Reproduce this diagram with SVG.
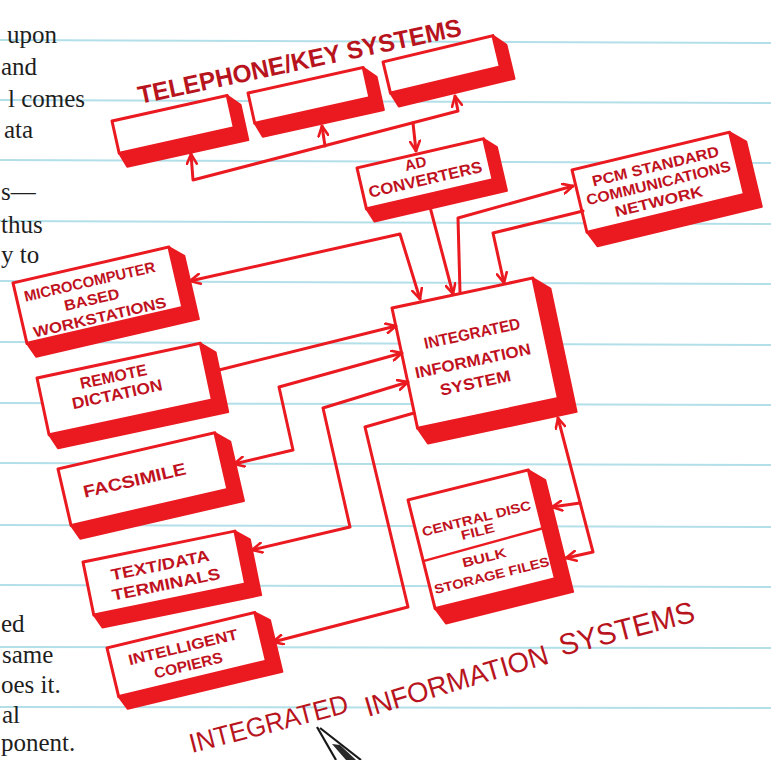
<svg xmlns="http://www.w3.org/2000/svg" width="771" height="760" viewBox="0 0 771 760">
<style>
.rule{stroke:#b3dfe9;stroke-width:2}
.body{font-family:"Liberation Serif",serif;font-size:25px;fill:#1e1e1e}
.front{fill:#fff;stroke:#ea1a20;stroke-width:3;stroke-linejoin:round}
.shade{fill:#ea1a20;stroke:#ea1a20;stroke-width:2;stroke-linejoin:round}
.div{stroke:#ea1a20;stroke-width:2.5;fill:none}
.lbl{font-family:"Liberation Sans",Arial,sans-serif;font-weight:bold;fill:#c0121e;text-anchor:middle}
#connectors path{fill:none;stroke:#ea1a20;stroke-width:3;stroke-linejoin:round;stroke-linecap:round}
.title{font-family:"Liberation Sans",Arial,sans-serif;fill:#b8141e}
</style>
<defs>
<marker id="ah" viewBox="0 0 12 12" refX="11" refY="6" markerWidth="12" markerHeight="12" markerUnits="userSpaceOnUse" orient="auto-start-reverse">
<path d="M1,1 L11,6 L1,11" fill="none" stroke="#ea1a20" stroke-width="2.6" stroke-linecap="round" stroke-linejoin="round"/>
</marker>
</defs>
<rect width="771" height="760" fill="#fff"/>
<g id="paper">
<line class="rule" x1="0" y1="40" x2="771" y2="43"/>
<line class="rule" x1="0" y1="100" x2="771" y2="103"/>
<line class="rule" x1="0" y1="160" x2="771" y2="163"/>
<line class="rule" x1="0" y1="221" x2="771" y2="224"/>
<line class="rule" x1="0" y1="281" x2="771" y2="284"/>
<line class="rule" x1="0" y1="342" x2="771" y2="345"/>
<line class="rule" x1="0" y1="403" x2="771" y2="405"/>
<line class="rule" x1="0" y1="463" x2="771" y2="465"/>
<line class="rule" x1="0" y1="525" x2="771" y2="527"/>
<line class="rule" x1="0" y1="585" x2="771" y2="587"/>
<line class="rule" x1="0" y1="647" x2="771" y2="648"/>
<line class="rule" x1="0" y1="707" x2="771" y2="708"/>
</g>
<g id="bodytext" class="body">
<text x="7" y="43">upon</text>
<text x="1" y="75">and</text>
<text x="8" y="107">l comes</text>
<text x="4" y="138">ata</text>
<text x="1" y="200">s—</text>
<text x="1" y="233">thus</text>
<text x="1" y="263">y to</text>
<text x="1" y="632">ed</text>
<text x="2" y="663">same</text>
<text x="1" y="693">oes it.</text>
<text x="2" y="723">al</text>
<text x="1" y="751">ponent.</text>
</g>
<text id="tel-label" class="title" transform="translate(140,104) rotate(-12)" font-size="25" font-weight="bold" fill="#d4161e" textLength="330" lengthAdjust="spacingAndGlyphs">TELEPHONE/KEY SYSTEMS</text>
<g id="tel1" transform="translate(112,121) rotate(-12.5)">
<polygon class="shade" points="118,0 129,12 129,48 5,48 0,33"/>
<rect class="front" width="118" height="33"/>
</g>
<g id="tel2" transform="translate(248,93) rotate(-12.5)">
<polygon class="shade" points="118,0 129,12 129,46 5,46 0,31"/>
<rect class="front" width="118" height="31"/>
</g>
<g id="tel3" transform="translate(383,62) rotate(-13.5)">
<polygon class="shade" points="113,0 124,12 124,47 5,47 0,32"/>
<rect class="front" width="113" height="32"/>
</g>
<g id="ad" transform="translate(357,168) rotate(-13)">
<polygon class="shade" points="130,0 141,11 141,56 5,56 0,42"/>
<rect class="front" width="130" height="42"/>
<text class="lbl" x="58" y="14" font-size="15">AD</text>
<text class="lbl" x="64" y="32" font-size="16" textLength="116" lengthAdjust="spacingAndGlyphs">CONVERTERS</text>
</g>
<g id="pcm" transform="translate(572,170) rotate(-13.5)">
<polygon class="shade" points="162,0 176,13 176,80 7,80 0,64"/>
<rect class="front" width="162" height="64"/>
<text class="lbl" x="82" y="21" font-size="15" textLength="130" lengthAdjust="spacingAndGlyphs">PCM STANDARD</text>
<text class="lbl" x="81" y="38" font-size="15" textLength="148" lengthAdjust="spacingAndGlyphs">COMMUNICATIONS</text>
<text class="lbl" x="77" y="56" font-size="15" textLength="90" lengthAdjust="spacingAndGlyphs">NETWORK</text>
</g>
<g id="micro" transform="translate(13,283) rotate(-13)">
<polygon class="shade" points="160,0 173,12 173,77 6,77 0,62"/>
<rect class="front" width="160" height="62"/>
<text class="lbl" x="75" y="21" font-size="15" textLength="134" lengthAdjust="spacingAndGlyphs">MICROCOMPUTER</text>
<text class="lbl" x="73" y="39" font-size="15" textLength="56" lengthAdjust="spacingAndGlyphs">BASED</text>
<text class="lbl" x="77" y="58" font-size="15" textLength="136" lengthAdjust="spacingAndGlyphs">WORKSTATIONS</text>
</g>
<g id="remote" transform="translate(37,378) rotate(-12)">
<polygon class="shade" points="167,0 180,12 180,73 6,73 0,58"/>
<rect class="front" width="167" height="58"/>
<text class="lbl" x="75" y="20" font-size="16" textLength="68" lengthAdjust="spacingAndGlyphs">REMOTE</text>
<text class="lbl" x="75" y="38" font-size="16" textLength="92" lengthAdjust="spacingAndGlyphs">DICTATION</text>
</g>
<g id="facsimile" transform="translate(58,469) rotate(-13)">
<polygon class="shade" points="161,0 174,12 174,73 6,73 0,58"/>
<rect class="front" width="161" height="58"/>
<text class="lbl" x="72" y="34" font-size="17" textLength="105" lengthAdjust="spacingAndGlyphs">FACSIMILE</text>
</g>
<g id="textdata" transform="translate(83,562) rotate(-11.5)">
<polygon class="shade" points="155,0 168,11 168,68 6,68 0,54"/>
<rect class="front" width="155" height="54"/>
<text class="lbl" x="75" y="24" font-size="16" textLength="100" lengthAdjust="spacingAndGlyphs">TEXT/DATA</text>
<text class="lbl" x="77" y="44" font-size="16" textLength="110" lengthAdjust="spacingAndGlyphs">TERMINALS</text>
</g>
<g id="copiers" transform="translate(107,648) rotate(-13.5)">
<polygon class="shade" points="152,0 165,11 165,64 6,64 0,50"/>
<rect class="front" width="152" height="50"/>
<text class="lbl" x="74" y="22" font-size="15" textLength="112" lengthAdjust="spacingAndGlyphs">INTELLIGENT</text>
<text class="lbl" x="75" y="41" font-size="15" textLength="70" lengthAdjust="spacingAndGlyphs">COPIERS</text>
</g>
<g id="iis" transform="translate(392,308) rotate(-12)">
<polygon class="shade" points="144,0 159,14 159,140 7,140 0,123"/>
<rect class="front" width="144" height="123"/>
<text class="lbl" x="73" y="47" font-size="16" textLength="98" lengthAdjust="spacingAndGlyphs">INTEGRATED</text>
<text class="lbl" x="68" y="74" font-size="16" textLength="118" lengthAdjust="spacingAndGlyphs">INFORMATION</text>
<text class="lbl" x="66" y="96" font-size="16" textLength="72" lengthAdjust="spacingAndGlyphs">SYSTEM</text>
</g>
<g id="disc" transform="translate(408,500) rotate(-14)">
<polygon class="shade" points="124,0 138,14 138,129 7,129 0,112"/>
<rect class="front" width="124" height="112"/>
<line class="div" x1="0" y1="63" x2="124" y2="60"/>
<text class="lbl" x="62" y="39" font-size="13" textLength="112" lengthAdjust="spacingAndGlyphs">CENTRAL DISC</text>
<text class="lbl" x="60" y="52" font-size="13" textLength="34" lengthAdjust="spacingAndGlyphs">FILE</text>
<text class="lbl" x="60" y="79" font-size="13" textLength="45" lengthAdjust="spacingAndGlyphs">BULK</text>
<text class="lbl" x="63" y="98" font-size="13" textLength="118" lengthAdjust="spacingAndGlyphs">STORAGE FILES</text>
</g>
<g id="connectors">
<path d="M191,154 L193,180 L458,111 L455,96" marker-start="url(#ah)" marker-end="url(#ah)"/>
<path d="M325,146 L322,126" marker-end="url(#ah)"/>
<path d="M413,123 L416,151" marker-end="url(#ah)"/>
<path d="M190,281 L400,234 L420,299" marker-start="url(#ah)" marker-end="url(#ah)"/>
<path d="M430,207 L453,294" marker-end="url(#ah)"/>
<path d="M460,292 L458,218 L573,186" marker-end="url(#ah)"/>
<path d="M583,211 L493,233 L504,283" marker-end="url(#ah)"/>
<path d="M215,371 L396,326" marker-end="url(#ah)"/>
<path d="M234,464 L293,450 L279,387 L402,353" marker-start="url(#ah)" marker-end="url(#ah)"/>
<path d="M252,550 L350,527 L323,408 L408,382" marker-start="url(#ah)" marker-end="url(#ah)"/>
<path d="M414,413 L365,427 L408,607 L273,642" marker-end="url(#ah)"/>
<path d="M558,418 L593,552 L566,558" marker-start="url(#ah)" marker-end="url(#ah)"/>
<path d="M580,503 L552,507" marker-end="url(#ah)"/>
</g>
<g id="title" class="title">
<text transform="translate(192,753) rotate(-14.5)" font-size="27" textLength="163" lengthAdjust="spacingAndGlyphs">INTEGRATED</text>
<text transform="translate(368,717) rotate(-16.5)" font-size="28" textLength="190" lengthAdjust="spacingAndGlyphs">INFORMATION</text>
<text transform="translate(562,656) rotate(-14.5)" font-size="30" textLength="139" lengthAdjust="spacingAndGlyphs">SYSTEMS</text>
</g>
<g id="pen">
<path d="M317,727 L336,760 M320,728 L361,760" fill="none" stroke="#1a1a1a" stroke-width="2.2"/>
<polygon points="332,744 346,760 356,760 340,745" fill="#2a2a2a"/>
</g>
</svg>
